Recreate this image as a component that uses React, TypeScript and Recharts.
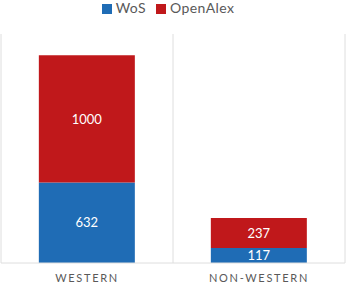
import { Bar, BarChart, CartesianGrid, LabelList, Legend, XAxis, YAxis } from 'recharts'

const categories = ['WESTERN', 'NON-WESTERN']
const seriesNames = ['WoS', 'OpenAlex']
const wos = [632, 117]
const openAlex = [1000, 237]

const data = categories.map((name, i) => ({ name, WoS: wos[i], OpenAlex: openAlex[i] }))

const font = 'Lato, "Noto Sans", sans-serif'

function CategoryTick({ x, y, payload }: any) {
  return (
    <text
      x={x}
      y={y + 11}
      textAnchor="middle"
      fill="#595959"
      fontSize={11}
      letterSpacing={1.7}
      fontFamily={font}
    >
      {payload.value}
    </text>
  )
}

export default function App() {
  return (
    <div style={{ position: 'absolute', left: 0, top: 0, background: '#fff' }}>
      <BarChart
        width={346}
        height={284}
        data={data}
        barCategoryGap="22%"
        margin={{ top: 18, right: 1, bottom: 0, left: 1 }}
        style={{ fontFamily: font }}
      >
        <CartesianGrid
          horizontal={false}
          stroke="#dedede"
          verticalCoordinatesGenerator={({ offset }: any) => [
            offset.left,
            offset.left + offset.width / 2,
            offset.left + offset.width,
          ]}
        />
        <XAxis
          dataKey="name"
          tickLine={false}
          axisLine={{ stroke: '#dedede' }}
          height={21}
          tick={<CategoryTick />}
          interval={0}
        />
        <YAxis hide domain={[0, 1800]} />
        <Legend
          verticalAlign="top"
          align="center"
          iconType="square"
          iconSize={10}
          itemSorter={(item: any) => seriesNames.indexOf(item.value)}
          wrapperStyle={{ top: 0, fontSize: 14, lineHeight: '16px', letterSpacing: 0.4 }}
          formatter={(v: string) => <span style={{ color: '#595959' }}>{v}</span>}
        />
        <Bar dataKey="WoS" stackId="a" fill="#1f6cb5" isAnimationActive={false}>
          <LabelList dataKey="WoS" position="center" fill="#fff" fontSize={13} />
        </Bar>
        <Bar dataKey="OpenAlex" stackId="a" fill="#c0181b" isAnimationActive={false}>
          <LabelList dataKey="OpenAlex" position="center" fill="#fff" fontSize={13} />
        </Bar>
      </BarChart>
    </div>
  )
}
